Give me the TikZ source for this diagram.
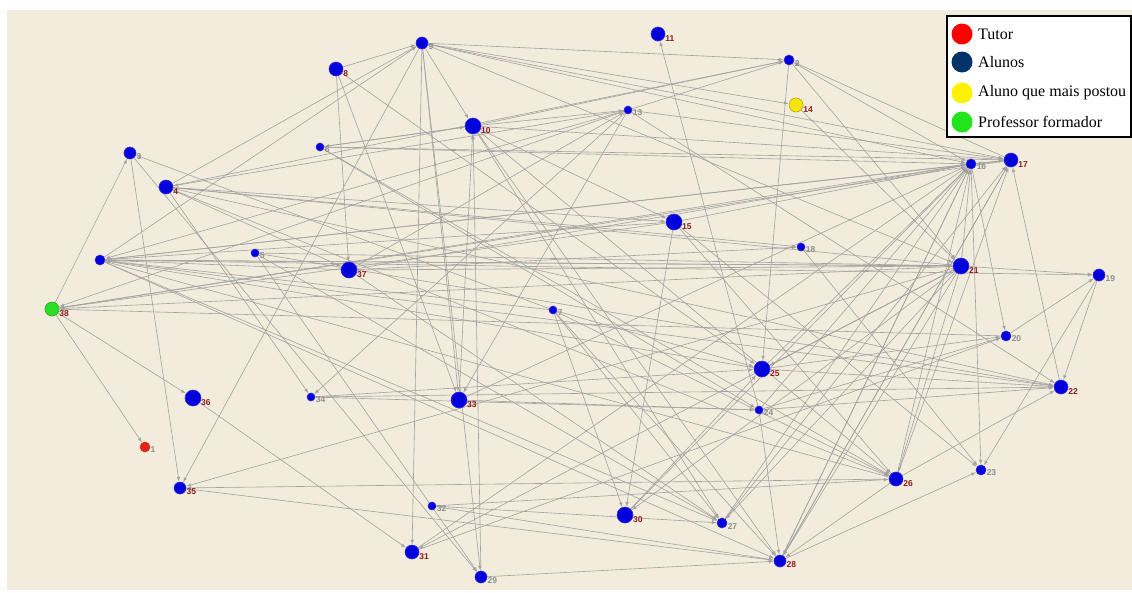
\documentclass[tikz,border=0pt]{standalone}
\usepackage{fontspec}
\setmainfont{Liberation Serif}
\newfontfamily\lblfont{Liberation Sans}
\usepackage{tikz}
\usetikzlibrary{arrows,backgrounds,positioning}

\definecolor{cbeige}{HTML}{F2ECDC}
\definecolor{cblue}{HTML}{0000DD}
\definecolor{cblueedge}{HTML}{3A2AD8}
\definecolor{clink}{HTML}{A2A2A0}
\definecolor{cr}{HTML}{8A1E1E}
\definecolor{cg}{HTML}{8E8E8E}
\definecolor{ctutor}{HTML}{E0231B}
\definecolor{cnavy}{HTML}{00336A}
\definecolor{cyellow}{HTML}{F4E60C}
\definecolor{cgreen}{HTML}{2BDD24}

\begin{document}
\begin{tikzpicture}[x=1pt, y=-1pt,
    student/.style={circle, inner sep=0pt, fill=cblue, draw=cblueedge, line width=0.6pt},
    lbl/.style={font=\lblfont\bfseries\fontsize{8.5}{9}\selectfont, inner sep=1.2pt, anchor=west},
    link/.style={draw=clink, ->, >=latex, line width=0.6pt, shorten >=0.3pt},
    keydot/.style={circle, inner sep=0pt, minimum size=21pt},
    keytext/.style={anchor=west, font=\rmfamily\fontsize{16}{18}\selectfont, inner sep=0pt}]

    \useasboundingbox (0,0) rectangle (1132,592);
    \begin{scope}[on background layer]
        \fill[white] (0,0) rectangle (1132,592);
        \fill[cbeige] (7,10) rectangle (1132,590);
    \end{scope}

    % Students
    \foreach \n/\x/\y/\r/\c in {2/789/60/5/cg, 3/130/153/6/cg, 4/166/187/7/cr, 5/255/253/4/cg,
        6/320/147/4/cg, 7/553/310/4/cg, 8/336/69/7/cr, 9/422/43/6/cg, 10/473/126/8/cr,
        11/658/34/7/cr, 13/628/110/4/cg, 15/674/222/8/cr, 16/971/164/5/cg, 17/1011/160/7/cr,
        18/801/247/4/cg, 19/1099/275/6/cg, 20/1006/336/5/cg, 21/961/266/8/cr, 22/1061/387/7/cr,
        23/981/470/5/cg, 24/759/410/4/cg, 25/762/369/8/cr, 26/896/479/7/cr, 27/722/523/5/cg,
        28/780/561/6/cr, 29/481/577/6/cg, 30/625/515/8/cr, 31/412/552/7/cr, 32/432/506/4/cg,
        33/459/400/8/cr, 34/311/397/4/cg, 35/180/488/6/cr, 36/193/398/8/cr, 37/349/270/8/cr}
        \node [student, minimum size={2*\r*1pt}, label={[lbl, text=\c]-35:\n}] (n\n) at (\x,\y) {};
    \node [student, minimum size=10pt] (n12) at (100,260) {};

    % Tutor, top poster, teacher
    \node [student, fill=ctutor, draw=ctutor!80!orange, minimum size=10pt,
        label={[lbl, text=cg]-35:1}] (n1) at (145,447) {};
    \node [student, fill=cyellow, draw=cyellow!75!black, minimum size=14pt,
        label={[lbl, text=cr]-35:14}] (n14) at (796,105) {};
    \node [student, fill=cgreen, draw=cgreen!80!black, minimum size=14pt,
        label={[lbl, text=cr]-35:38}] (n38) at (52,309) {};

    % Links
    \begin{scope}[on background layer]
    \foreach \a/\b in {38/1, 38/3, 38/36, 16/38, 21/38, 15/38, 20/38, 13/38, 17/38,
        3/35, 9/35, 26/35, 21/35, 35/28, 36/31, 3/29, 7/3,
        4/9, 8/9, 12/9, 9/33, 9/29, 9/31, 9/10, 9/17, 9/21, 9/16, 9/14, 9/2,
        8/37, 8/25, 8/33,
        13/4, 6/10, 10/6, 4/15, 4/21, 4/37, 4/22, 4/26, 4/34, 4/18, 4/2,
        16/12, 17/12, 21/12, 15/12, 13/12, 25/12, 7/12, 26/12, 12/19, 12/22, 12/27, 12/28, 12/21, 37/12,
        5/21, 5/29, 5/27, 5/22,
        6/16, 6/26, 6/24, 6/17,
        37/21, 37/16, 37/13, 37/27, 37/18,
        10/13, 10/15, 10/27, 10/28, 33/10, 29/10, 10/17, 10/26, 10/2,
        24/11,
        13/2, 13/17, 13/33, 13/34, 13/22,
        2/21, 2/16, 2/25, 17/2,
        14/21,
        15/16, 15/23, 15/26, 15/30,
        21/16, 26/16, 27/16, 28/16, 30/16, 31/16, 16/20, 16/17, 17/16, 25/16, 33/16, 16/23, 24/16,
        26/17, 28/17, 27/17, 22/17,
        18/23,
        21/19, 19/22, 19/23, 20/19,
        25/20, 24/20, 31/20,
        21/25, 21/26, 21/27, 21/28, 21/30, 21/31,
        25/22, 24/22, 26/22,
        28/23,
        33/24, 24/28, 34/24,
        34/25, 30/25, 7/25,
        7/26, 32/26, 26/28,
        7/27, 32/27,
        7/28, 16/28, 17/28, 32/28, 29/28,
        7/30, 34/22}
        \draw [link] (n\a) -- (n\b);
    \end{scope}

    % Legend
    \draw [line width=2.4pt, fill=white] (947,16) rectangle (1131,137);
    \node [keydot, fill=red] (kTutor) at (962,34) {};
    \node [keytext, right=16pt of kTutor.center] {Tutor};
    \node [keydot, fill=cnavy] (kAlunos) at (962,62) {};
    \node [keytext, right=16pt of kAlunos.center] {Alunos};
    \node [keydot, fill=yellow] (kTop) at (962,93) {};
    \node [keytext, right=16pt of kTop.center] {Aluno que mais postou};
    \node [keydot, fill=cgreen!80!green] (kProf) at (962,122) {};
    \node [keytext, right=16pt of kProf.center] {Professor formador};

\end{tikzpicture}
\end{document}
